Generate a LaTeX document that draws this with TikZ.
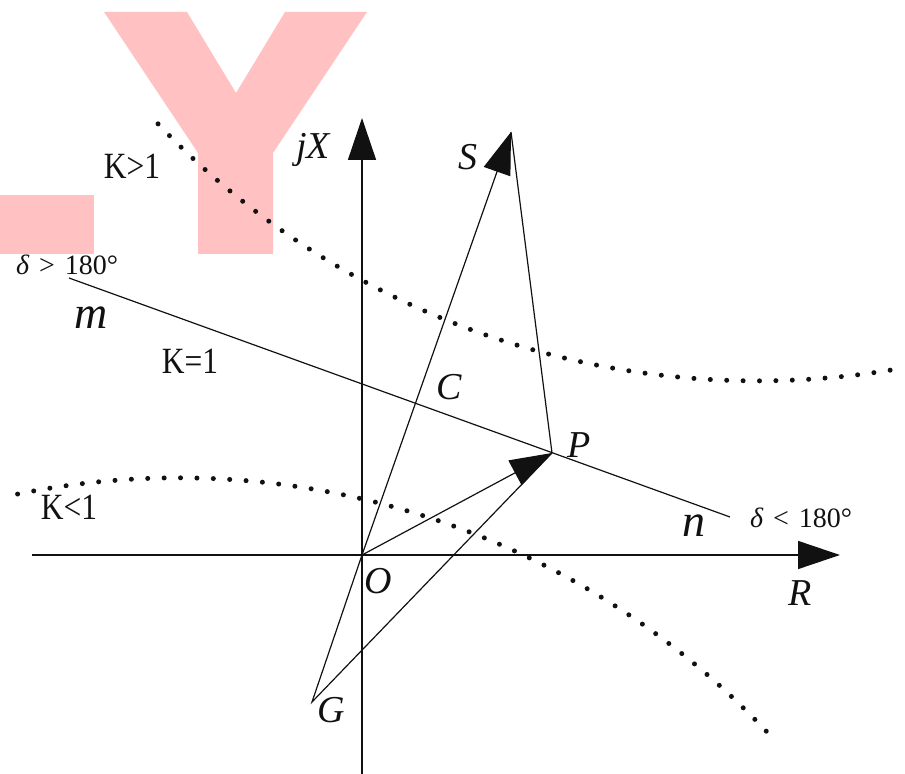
\documentclass[tikz,border=0pt]{standalone}
\usepackage{fontspec}
\setmainfont{Liberation Serif}
\newfontfamily\narrowserif[FakeStretch=0.85]{Liberation Serif}
\usetikzlibrary{arrows.meta}
\definecolor{diagramink}{HTML}{111111}
\definecolor{markpink}{HTML}{FFC1C1}

\begin{document}
\begin{tikzpicture}[
  x=0.5pt,
  y=-0.5pt,
  every node/.style={diagramink, inner sep=0pt},
  axis/.style={diagramink, line width=0.75pt,
               -{Triangle[length=21pt, width=14pt]}},
  phasor/.style={diagramink, line width=0.6pt,
                 -{Triangle[length=21pt, width=14pt]}},
  thinline/.style={diagramink, line width=0.6pt},
  kcircle/.style={diagramink, line width=2.5pt, line cap=round,
                  dash pattern=on 0pt off 8.2pt},
  letter/.style={font=\fontsize{19}{21}\selectfont\itshape},
  bigletter/.style={font=\fontsize{23}{25}\selectfont\itshape},
  klabel/.style={font=\fontsize{18.5}{20}\selectfont\narrowserif},
  anglelabel/.style={font=\fontsize{14}{15}\selectfont}
]
  \useasboundingbox (0,0) rectangle (905,774);

  %% ---- pink mark -------------------------------------------------------
  \fill[markpink] (0,195) rectangle (94,254);
  \fill[markpink] (104,12) -- (187,12) -- (236,93) -- (285,12) -- (367,12)
    -- (273,153) -- (273,254) -- (198,254) -- (198,153) -- cycle;

  %% ---- points ------------------------------------------------------------
  \coordinate (O) at (362,555);
  \coordinate (S) at (511,132);
  \coordinate (P) at (552,453);
  \coordinate (G) at (312,702);
  \coordinate (Rstart) at (32,555);
  \coordinate (Rend) at (840,555);
  \coordinate (Xstart) at (362,774);
  \coordinate (Xend) at (362,118);
  \coordinate (mend) at (69,278);
  \coordinate (nend) at (730,517);

  %% ---- K circles (dotted) ------------------------------------------------
  %% K>1: centre (757.6,-447.1), r = 828
  \draw[kcircle] plot[domain=136.4:79.7, samples=120]
    ({757.6+828*cos(\x)},{-447.1+828*sin(\x)});
  %% K<1: centre (178.7,1285.8), r = 808
  \draw[kcircle] plot[domain=-101.5:-43.1, samples=120]
    ({178.7+808*cos(\x)},{1285.8+808*sin(\x)});

  %% ---- axes --------------------------------------------------------------
  \draw[axis] (Rstart) -- (Rend);
  \draw[axis] (Xstart) -- (Xend);

  %% ---- K=1 line m--n and phasors ------------------------------------------
  \draw[thinline] (mend) -- (nend);
  \draw[phasor] (O) -- (S);
  \draw[thinline] (S) -- (P);
  \draw[phasor] (O) -- (P);
  \draw[thinline] (O) -- (G) -- (P);

  %% ---- labels ------------------------------------------------------------
  \node[letter] (labjX) at (313,150) {jX};
  \node[letter] (labS) at (468,157) {S};
  \node[letter] (labC) at (449,387) {C};
  \node[letter] (labP) at (579,445) {P};
  \node[letter] (labO) at (378,581) {O};
  \node[letter] (labG) at (331,710) {G};
  \node[letter] (labR) at (800,593) {R};
  \node[bigletter] (labm) at (91,318) {m};
  \node[bigletter] (labn) at (694,526) {n};

  \node[klabel] (labKgt) at (132,166) {K>1};
  \node[klabel] (labKeq) at (190,361) {K=1};
  \node[klabel] (labKlt) at (69,507) {K<1};

  \node[anglelabel] (labdgt) at (67,265) {\textit{δ}\hspace{0.35em}>\hspace{0.35em}180°};
  \node[anglelabel] (labdlt) at (801,518) {\textit{δ}\hspace{0.35em}<\hspace{0.35em}180°};
\end{tikzpicture}
\end{document}
